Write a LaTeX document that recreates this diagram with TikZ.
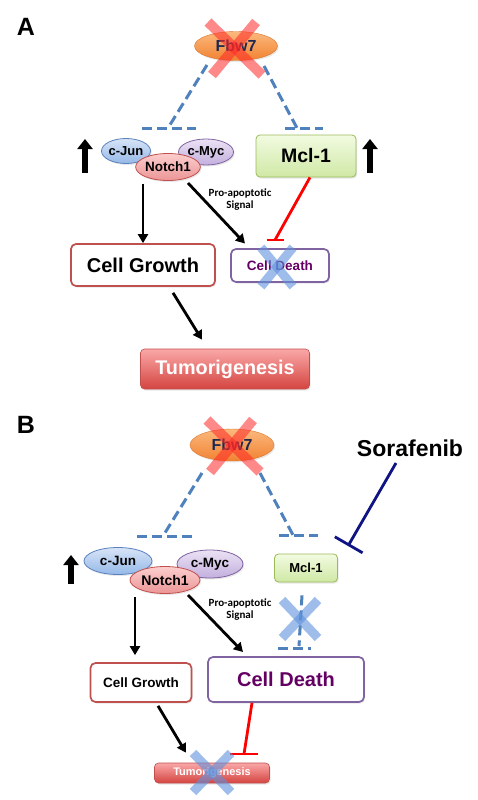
\documentclass[tikz,border=0pt]{standalone}
\usepackage{fontspec}
\setmainfont{Liberation Sans}
\newfontfamily\calfont{Carlito}
\usetikzlibrary{arrows.meta,shapes.geometric,shadows}
\definecolor{dashblue}{RGB}{79,129,189}
\definecolor{fbwtop}{RGB}{251,185,125}
\definecolor{fbwbot}{RGB}{241,130,50}
\definecolor{fbwtext}{RGB}{30,40,80}
\definecolor{juntop}{RGB}{215,228,247}
\definecolor{junbot}{RGB}{150,185,232}
\definecolor{junline}{RGB}{90,130,190}
\definecolor{myctop}{RGB}{235,226,244}
\definecolor{mycbot}{RGB}{195,175,222}
\definecolor{mycline}{RGB}{128,100,162}
\definecolor{notchtop}{RGB}{252,205,205}
\definecolor{notchbot}{RGB}{236,150,150}
\definecolor{redline}{RGB}{192,80,77}
\definecolor{mcltop}{RGB}{242,251,225}
\definecolor{mclbot}{RGB}{207,232,165}
\definecolor{mclline}{RGB}{155,187,89}
\definecolor{tumtop}{RGB}{250,168,168}
\definecolor{tumbot}{RGB}{212,68,64}
\definecolor{cdtext}{RGB}{100,0,100}
\definecolor{navy2}{RGB}{15,20,130}
\definecolor{xred}{RGB}{255,40,40}
\definecolor{xblue}{RGB}{95,145,220}
\newcommand\myfs[1]{\fontsize{#1}{#1}\selectfont}
\tikzset{
  shd/.style={drop shadow={opacity=0.18, shadow xshift=1.2pt, shadow yshift=-1.5pt}},
  panel/.style={font=\bfseries\myfs{25}},
  fbw/.style={ellipse, inner sep=0pt, minimum width=83pt, minimum height=29pt,
    top color=fbwtop, bottom color=fbwbot, draw=fbwbot!90!black, line width=0.4pt,
    text=fbwtext, font=\bfseries\myfs{16}, shd},
  prot/.style={ellipse, inner sep=0pt, line width=0.8pt, font=\bfseries\myfs{#1}, shd},
  jun/.style={prot=13, top color=juntop, bottom color=junbot, draw=junline},
  myc/.style={prot=13, top color=myctop, bottom color=mycbot, draw=mycline},
  notch/.style={prot=13.5, top color=notchtop, bottom color=notchbot, draw=redline},
  mcl/.style={rectangle, rounded corners=4pt, inner sep=0pt, top color=mcltop, bottom color=mclbot,
    draw=mclline, line width=0.8pt, font=\bfseries\myfs{#1}, shd},
  cg/.style={rectangle, rounded corners=5pt, inner sep=0pt, fill=white, draw=redline,
    line width=1.7pt, font=\bfseries\myfs{#1}, shd},
  cd/.style={rectangle, rounded corners=5pt, inner sep=0pt, fill=white, draw=mycline,
    line width=1.7pt, text=cdtext, font=\bfseries\myfs{#1}, shd},
  tum/.style={rectangle, rounded corners=4pt, inner sep=0pt, top color=tumtop, bottom color=tumbot,
    draw=redline, line width=0.6pt, text=white, font=\bfseries\myfs{#1}, shd},
  arr/.style={line width=2.8pt, -{Triangle[length=9pt,width=10pt]}},
  uparr/.style={line width=5.5pt, -{Triangle[length=10pt,width=15pt]}},
  dsh/.style={dashblue, line width=3pt, dash pattern=on 10pt off 5pt},
  inh/.style={red, line width=2.8pt},
  redx/.style={xred, line width=10pt, opacity=0.55},
  bluex/.style={xblue, line width=9pt, opacity=0.6},
  sig/.style={align=center, font=\calfont\bfseries\myfs{11}, inner sep=0pt}
}
\begin{document}
\begin{tikzpicture}[x=1pt,y=-1pt]
\useasboundingbox (0,0) rectangle (477,800);
\fill[white] (0,0) rectangle (477,800);

% ---------------- Panel A ----------------
\node[panel] (labA) at (26,27) {A};
\node[fbw] (fA) at (236,46) {Fbw7};
\draw[redx] ([shift={(-28,-24)}]fA.center) -- ([shift={(26,29)}]fA.center);
\draw[redx] ([shift={(20,-24)}]fA.center) -- ([shift={(-24,29)}]fA.center);

\coordinate (dAl1) at (207,65);
\coordinate (dAl2) at (168,128);
\coordinate (bAl1) at (142,128);
\coordinate (bAl2) at (196,128);
\coordinate (dAr1) at (264,66);
\coordinate (dAr2) at (297,128);
\coordinate (bAr1) at (285,128);
\coordinate (bAr2) at (323,128);
\draw[dsh] (dAl1) -- (dAl2);
\draw[dsh] (bAl1) -- (bAl2);
\draw[dsh] (dAr1) -- (dAr2);
\draw[dsh] (bAr1) -- (bAr2);

\coordinate (uA1s) at (85,173);
\coordinate (uA1e) at (85,139);
\coordinate (uA2s) at (370,173);
\coordinate (uA2e) at (370,139);
\draw[uparr] (uA1s) -- (uA1e);
\draw[uparr] (uA2s) -- (uA2e);

\node[jun, minimum width=45pt, minimum height=25pt] (junA) at (126,151) {c-Jun};
\node[myc, minimum width=55pt, minimum height=26pt] (mycA) at (206,152) {c-Myc};
\node[notch, minimum width=57pt, minimum height=27pt] (notchA) at (168,167) {Notch1};
\node[mcl=19.5, minimum width=100pt, minimum height=42pt] (mclA) at (306,156) {Mcl-1};

\node[cg=20, minimum width=144pt, minimum height=42pt] (cgA) at (143,265) {Cell Growth};
\node[cd=13.5, minimum width=98pt, minimum height=33pt] (cdA) at (280,265.5) {Cell Death};
\node[tum=19.8, minimum width=169pt, minimum height=40pt] (tumA) at (225,369) {Tumorigenesis};

\node[sig] (sigA) at (240,199.5) {Pro-apoptotic\\[1pt]Signal};

\draw[arr, shorten <=3pt] (notchA.south -| cgA.north) -- (cgA.north);
\draw[arr] ([shift={(20,16)}]notchA.center) -- ([shift={(-35,-22)}]cdA.center);
\draw[arr] ([shift={(30,6)}]cgA.south) -- ([shift={(-23,-9)}]tumA.north);

\coordinate (iA) at (275,240);
\draw[inh] ([shift={(4,0)}]mclA.south) -- (iA);
\draw[inh] ([shift={(-8.5,0)}]iA) -- ([shift={(8.5,0)}]iA);

\draw[bluex] ([shift={(-19,-18)}]cdA.center) -- ([shift={(13,21)}]cdA.center);
\draw[bluex] ([shift={(13,-18)}]cdA.center) -- ([shift={(-19,21)}]cdA.center);

% ---------------- Panel B ----------------
\node[panel] (labB) at (26,425) {B};
\node[fbw, minimum width=84pt, minimum height=32pt] (fB) at (232,445) {Fbw7};
\draw[redx] ([shift={(-25,-25)}]fB.center) -- ([shift={(28,27)}]fB.center);
\draw[redx] ([shift={(21,-25)}]fB.center) -- ([shift={(-22,27)}]fB.center);

\node[font=\bfseries\myfs{23}] (sor) at (410,448) {Sorafenib};

\coordinate (dBl1) at (202,473);
\coordinate (dBl2) at (163,536);
\coordinate (bBl1) at (137,536);
\coordinate (bBl2) at (192,536);
\coordinate (dBr1) at (260,473);
\coordinate (dBr2) at (293,535);
\coordinate (bBr1) at (279,535);
\coordinate (bBr2) at (318,535);
\draw[dsh] (dBl1) -- (dBl2);
\draw[dsh] (bBl1) -- (bBl2);
\draw[dsh] (dBr1) -- (dBr2);
\draw[dsh] (bBr1) -- (bBr2);

\coordinate (sorEnd) at (348,546);
\draw[navy2, line width=2.8pt, -{Bar[width=32pt,line width=2.8pt]}] ([shift={(-14,15)}]sor.center) -- (sorEnd);

\coordinate (uBs) at (71,584);
\coordinate (uBe) at (71,555);
\draw[uparr] (uBs) -- (uBe);

\node[jun, minimum width=68pt, minimum height=27pt, font=\bfseries\myfs{13.5}] (junB) at (118,561) {c-Jun};
\node[myc, minimum width=66pt, minimum height=28pt, font=\bfseries\myfs{13.5}] (mycB) at (210,564) {c-Myc};
\node[notch, minimum width=70pt, minimum height=27pt, font=\bfseries\myfs{14}] (notchB) at (165,580) {Notch1};
\node[mcl=13, minimum width=63pt, minimum height=28pt] (mclB) at (306,568) {Mcl-1};

\coordinate (dBm2) at (299,646);
\coordinate (bBm1) at (278,648);
\coordinate (bBm2) at (311,648);
\draw[dsh] ([shift={(-4,13)}]mclB.south) -- (dBm2);
\draw[dsh] (bBm1) -- (bBm2);
\coordinate (xBm) at (300,619);
\draw[bluex] ([shift={(-18,-19)}]xBm) -- ([shift={(18,19)}]xBm);
\draw[bluex] ([shift={(18,-19)}]xBm) -- ([shift={(-18,19)}]xBm);

\node[cg=13.5, minimum width=101pt, minimum height=39pt] (cgB) at (141,682.5) {Cell Growth};
\node[cd=20, minimum width=156pt, minimum height=45pt] (cdB) at (286,679.5) {Cell Death};
\node[tum=11, minimum width=115pt, minimum height=20pt] (tumB) at (212,773) {Tumorigenesis};

\node[sig] (sigB) at (240,609.5) {Pro-apoptotic\\[1pt]Signal};

\draw[arr] ([shift={(-30,3.5)}]notchB.south) -- ([shift={(-6,-7)}]cgB.north);
\draw[arr] ([shift={(23,15)}]notchB.center) -- ([shift={(-43,-27.5)}]cdB.center);
\draw[arr] ([shift={(17,3)}]cgB.south) -- ([shift={(-26,-10)}]tumB.north);

\coordinate (iB) at (244,754);
\draw[inh] ([shift={(-34,0)}]cdB.south) -- (iB);
\draw[inh] ([shift={(-14,0)}]iB) -- ([shift={(14,0)}]iB);

\draw[bluex] ([shift={(-19,-20)}]tumB.center) -- ([shift={(19,19)}]tumB.center);
\draw[bluex] ([shift={(19,-20)}]tumB.center) -- ([shift={(-19,19)}]tumB.center);
\end{tikzpicture}
\end{document}
